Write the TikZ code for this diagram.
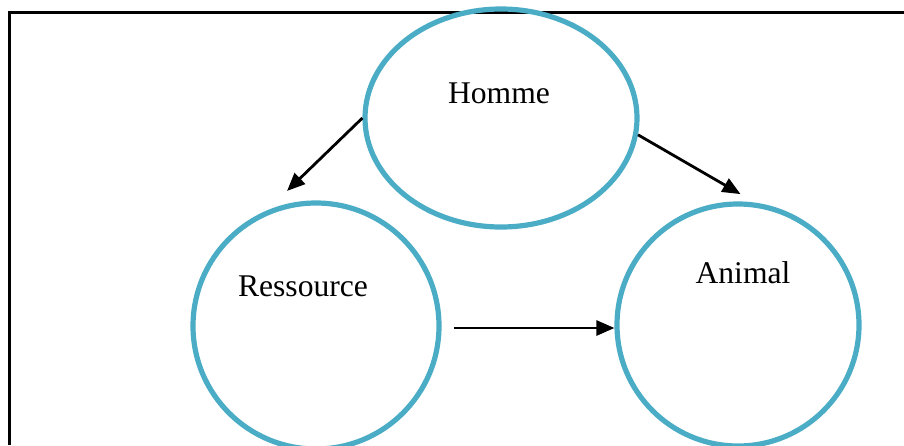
\documentclass[tikz,border=0pt]{standalone}
\usepackage{fontspec}
\setmainfont{Liberation Serif}
\usetikzlibrary{arrows.meta, positioning, shapes.geometric}
\definecolor{ringblue}{HTML}{4BACC6}

\begin{document}
\begin{tikzpicture}[
    x=1pt, y=-1pt,
    ring/.style = {
      draw=ringblue, line width=5.2pt,
      ellipse, inner sep=0pt
    },
    word/.style  = {font=\fontsize{31.6}{38}\selectfont, inner sep=0pt},
    edge/.style  = {-{Triangle[length=18pt,width=15pt]}, line width=2.8pt},
    frame/.style = {line width=3pt}
  ]

    \useasboundingbox (0,0) rectangle (904,445);

    % frame
    \draw[frame] (9,445) -- (9,12) -- (904,12);

    \node[ring, minimum width=272pt, minimum height=218pt] (homme) at (501,118) {};
    \node[ring, minimum width=246pt, minimum height=246pt] (ressource) at (316,326) {};
    \node[ring, minimum width=242pt, minimum height=242pt] (animal) at (738,325) {};

    \node[word] (hommetxt) at (499,93) {Homme};
    \node[word] (ressourcetxt) at (303,286) {Ressource};
    \node[word] (animaltxt) at (743,273) {Animal};

    \draw[edge, shorten >=28pt] (homme.west) -- (ressource.113);
    \draw[edge, shorten >=17pt] (homme.-7) -- (animal.82);
    \draw[edge, shorten <=12pt]
      ([yshift=-2pt]ressource.east) -- ([yshift=-2pt]ressource.east -| animal.west);

\end{tikzpicture}
\end{document}
